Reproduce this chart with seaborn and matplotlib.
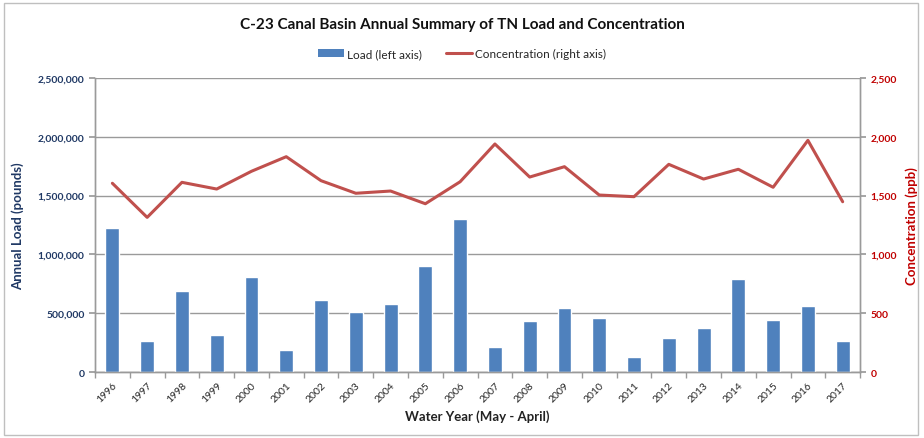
import numpy as np
import pandas as pd
import seaborn as sns
import matplotlib.pyplot as plt
from matplotlib.patches import Patch, Rectangle
from matplotlib.lines import Line2D
from matplotlib.ticker import FuncFormatter, FixedLocator

sns.set_theme(style="white")
plt.rcParams['font.family'] = ['Lato', 'DejaVu Sans']

# данные
years = [str(y) for y in range(1996, 2018)]
load_lbs = [1222000, 266000, 686000, 317000, 810000, 187000, 615000, 513000,
            578000, 904000, 1301000, 210000, 434000, 544000, 456000, 128000,
            289000, 377000, 791000, 442000, 564000, 261000]
conc_ppb = [1605, 1315, 1613, 1556, 1707, 1831, 1627, 1520, 1539, 1431, 1618,
            1939, 1658, 1746, 1505, 1491, 1766, 1641, 1724, 1571, 1970, 1448]

BAR_COLOR = '#4F81BD'
LINE_COLOR = '#C0504D'
LEFT_TXT = '#1F3864'
RIGHT_TXT = '#C00000'
GRID = '#9A9A9A'

df = pd.DataFrame({'year': years, 'load': load_lbs, 'conc': conc_ppb})

fig = plt.figure(figsize=(9.24, 4.39), dpi=100)
ax = fig.add_axes([0.1028, 0.1503, 0.828, 0.6697])

sns.barplot(data=df, x='year', y='load', color=BAR_COLOR, width=0.4,
            saturation=1, ax=ax, zorder=3)
ax.set_ylim(0, 2500000)
ax.set_xlim(-0.5, len(years) - 0.5)
ax.yaxis.set_major_locator(FixedLocator(np.arange(0, 2500001, 500000)))
ax.yaxis.set_major_formatter(FuncFormatter(lambda v, p: f'{int(v):,}'))
ax.grid(axis='y', color=GRID, linewidth=1, zorder=0)
ax.set_axisbelow(True)

ax2 = ax.twinx()
sns.lineplot(data=df, x='year', y='conc', color=LINE_COLOR, linewidth=2.2,
             ax=ax2, sort=False)
ax2.set_ylim(0, 2500)
ax2.yaxis.set_major_locator(FixedLocator(np.arange(0, 2501, 500)))
ax2.yaxis.set_major_formatter(FuncFormatter(lambda v, p: f'{int(v):,}'))

# оси и подписи
for a in (ax, ax2):
    a.spines['top'].set_visible(False)
    for s in ('left', 'right', 'bottom'):
        a.spines[s].set_color(GRID)
        a.spines[s].set_linewidth(1)

ax.tick_params(axis='y', colors=LEFT_TXT, labelsize=7.5, length=4, direction='out',
               left=True, color=GRID)
for t in ax.get_yticklabels():
    t.set_fontweight('bold')
ax2.tick_params(axis='y', colors=RIGHT_TXT, labelsize=7.5, length=4, direction='out',
                right=True, color=GRID)
for t in ax2.get_yticklabels():
    t.set_fontweight('bold')

ax.set_xticks(range(len(years)))
ax.set_xticklabels(years, rotation=45, ha='right', rotation_mode='anchor', fontsize=7.5)
ax.tick_params(axis='x', length=0, pad=6)
ax.set_xticks(np.arange(-0.5, len(years), 1), minor=True)
ax.tick_params(axis='x', which='minor', length=4, color=GRID, bottom=True, direction='out')

ax.set_xlabel('Water Year (May - April)', fontsize=9.5, fontweight='bold',
              color='#222222', labelpad=4)
ax.set_ylabel('Annual Load (pounds)', fontsize=9.5, fontweight='bold',
              color=LEFT_TXT, labelpad=10)
ax2.set_ylabel('Concentration (ppb)', fontsize=9.5, fontweight='bold',
               color=RIGHT_TXT, labelpad=6)

fig.suptitle('C-23 Canal Basin Annual Summary of TN Load and Concentration',
             y=0.96, fontsize=11, fontweight='bold', color='#111111')

handles = [Patch(facecolor=BAR_COLOR, edgecolor='none'),
           Line2D([0], [0], color=LINE_COLOR, linewidth=2.2)]
fig.legend(handles, ['Load (left axis)', 'Concentration (right axis)'],
           loc='center', bbox_to_anchor=(0.5, 0.876), ncol=2, frameon=False,
           fontsize=8.5, handlelength=2.2, handletextpad=0.3, columnspacing=2.0)

# рамка диаграммы
fig.patches.append(Rectangle((0.004, 0.006), 0.99, 0.985, transform=fig.transFigure,
                             fill=False, edgecolor='#BFBFBF', linewidth=1))

fig.savefig('out.png', dpi=100)
